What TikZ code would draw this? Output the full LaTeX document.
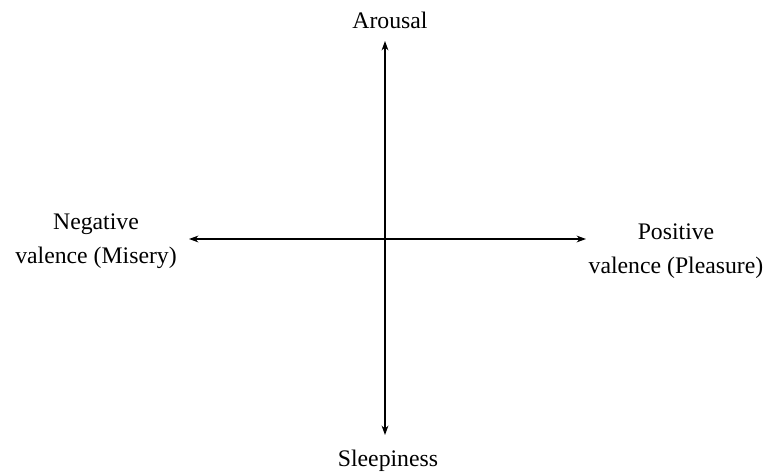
\documentclass[tikz,border=0pt]{standalone}
\usepackage{fontspec}
\setmainfont{Liberation Serif}
\usepackage{tikz}
\usetikzlibrary{arrows.meta,positioning}
\tikzset{
  axis/.style={{Stealth[length=2.5mm,width=1.8mm]}-{Stealth[length=2.5mm,width=1.8mm]},line width=0.8pt,draw=black},
  lbl/.style={font=\fontsize{17.8}{25.5}\selectfont,align=center,inner sep=0pt,anchor=base}
}
\begin{document}
\begin{tikzpicture}[x=0.75pt,y=-0.75pt]
  \useasboundingbox (0,0) rectangle (768,472);
  \coordinate (top) at (385,41);
  \coordinate (bottom) at (385,435);
  \coordinate (left) at (189,239);
  \coordinate (right) at (586,239);
  \node[lbl] (arousal) at (390,28) {Arousal};
  \node[lbl] (sleep) at (388,466) {Sleepiness};
  \node[lbl] (neg) at (96,263) {Negative\\valence (Misery)};
  \node[lbl] (pos) at (676,273) {Positive\\valence (Pleasure)};
  \draw[axis] (top) -- (bottom);
  \draw[axis] (left) -- (right);
\end{tikzpicture}
\end{document}
